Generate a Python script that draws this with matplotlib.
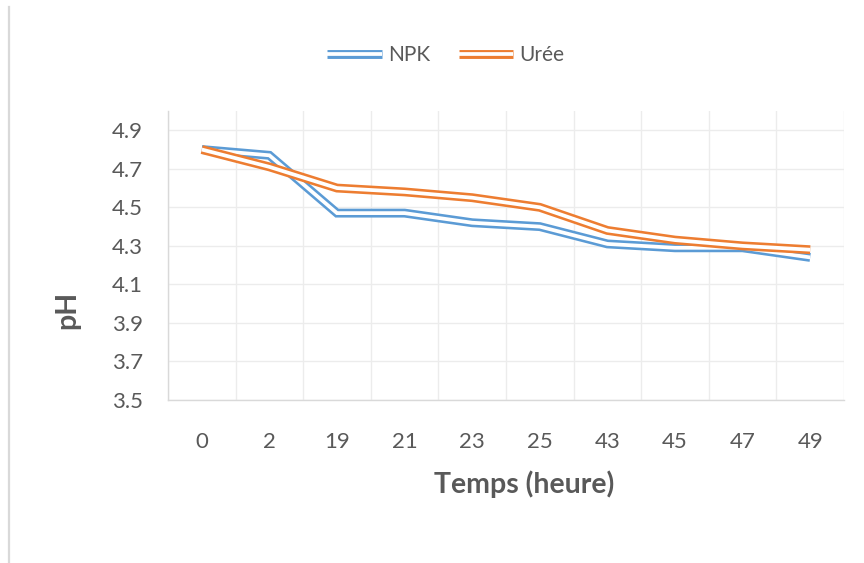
import matplotlib
matplotlib.use("Agg")
import matplotlib.pyplot as plt
import matplotlib.patheffects as pe
from matplotlib.lines import Line2D
import numpy as np

# données
temps = ["0", "2", "19", "21", "23", "25", "43", "45", "47", "49"]
ph_npk = [4.80, 4.77, 4.47, 4.47, 4.42, 4.40, 4.31, 4.29, 4.29, 4.24]
ph_uree = [4.80, 4.71, 4.60, 4.58, 4.55, 4.50, 4.38, 4.33, 4.30, 4.28]
yticks = [3.5, 3.7, 3.9, 4.1, 4.3, 4.5, 4.7, 4.9]

bleu = "#5B9BD5"
orange = "#ED7D31"
gris_txt = "#595959"
gris_axe = "#d9d9d9"

plt.rcParams["font.family"] = ["Lato", "DejaVu Sans"]

fig = plt.figure(figsize=(8.64, 5.63), dpi=100)
ax = fig.add_axes([168/864, 1 - 400/563, (844-168)/864, (400-111)/563])

# trait double (style Excel) : trait épais coloré + trait blanc au centre
def double(c):
    return [pe.Stroke(linewidth=6.4, foreground=c, capstyle="butt"),
            pe.Stroke(linewidth=2.7, foreground="white", capstyle="butt")]

x = np.arange(len(temps))
ax.plot(x, ph_npk, color=bleu, lw=6.4, label="NPK", solid_capstyle="butt",
        path_effects=double(bleu), solid_joinstyle="miter", zorder=3)
ax.plot(x, ph_uree, color=orange, lw=6.4, label="Urée", solid_capstyle="butt",
        path_effects=double(orange), solid_joinstyle="miter", zorder=4)

ax.set_xlim(-0.5, len(temps) - 0.5)
ax.set_ylim(3.5, 5.0)
ax.set_xticks(x)
ax.set_xticklabels(temps)
ax.set_yticks(yticks)
ax.set_yticklabels([f"{v:.1f}" for v in yticks])
ax.set_xticks(np.arange(-0.5, len(temps), 1), minor=True)

ax.grid(True, axis="y", which="major", color="#ececec", lw=1.0)
ax.grid(True, axis="x", which="minor", color="#ececec", lw=1.0)
ax.set_axisbelow(True)

for s in ["top", "right"]:
    ax.spines[s].set_visible(False)
for s in ["left", "bottom"]:
    ax.spines[s].set_color(gris_axe)
    ax.spines[s].set_linewidth(1.0)

ax.tick_params(axis="both", which="both", length=0, labelsize=16,
               labelcolor=gris_txt)
ax.tick_params(axis="x", pad=23)
ax.tick_params(axis="y", pad=18)

ax.set_xlabel("Temps (heure)", fontsize=20.5, fontweight="bold", color=gris_txt)
ax.xaxis.set_label_coords(0.527, -0.245)
ax.set_ylabel("pH", fontsize=20.5, fontweight="bold", color=gris_txt)
ax.yaxis.set_label_coords(-0.13, 0.31)

leg = ax.legend(loc="center", bbox_to_anchor=(446/864, 1 - 55/563),
                bbox_transform=fig.transFigure, ncol=2, frameon=False,
                fontsize=15, handlelength=2.6, handletextpad=0.3,
                columnspacing=1.4)
for t in leg.get_texts():
    t.set_color(gris_txt)

# bordure gauche du cadre du graphique
fig.add_artist(Line2D([9/864, 9/864], [0, 1 - 7/563], color=gris_axe,
                      lw=1.6, transform=fig.transFigure))

fig.savefig("out.png", dpi=100, facecolor="white")
